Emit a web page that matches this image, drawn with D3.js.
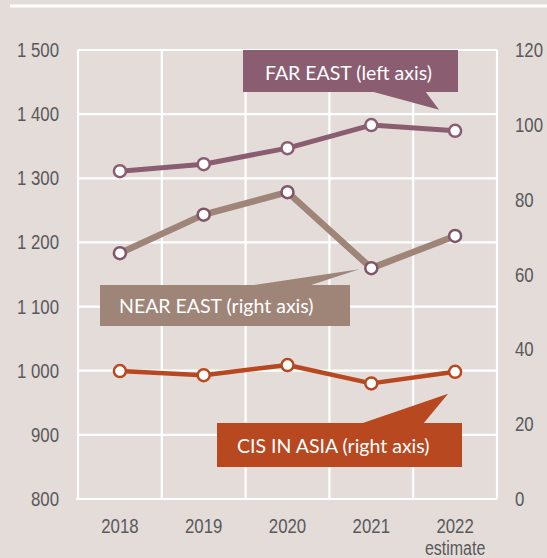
<!DOCTYPE html>
<html><head><meta charset="utf-8">
<script src="https://cdn.jsdelivr.net/npm/d3@7"></script>
<style>
html,body{margin:0;padding:0;background:#e3dcd9;}
svg{display:block;}
.ax text, text.ax{font-family:"Liberation Sans",Arial,sans-serif;}
.co{font-family:Lato,"Open Sans",sans-serif;}
</style></head>
<body>
<script>
const years = ["2018","2019","2020","2021","2022"];
const farEast = [1311, 1322, 1347, 1383, 1374];      // left axis
const nearEast = [65.7, 76, 82, 61.7, 70.3];         // right axis
const cisAsia = [34.2, 33.1, 35.8, 30.9, 34.0];      // right axis
const leftTicks = [800, 900, 1000, 1100, 1200, 1300, 1400, 1500];
const rightTicks = [0, 20, 40, 60, 80, 100, 120];
const leftTickLabels = ["800","900","1 000","1 100","1 200","1 300","1 400","1 500"];

const W = 547, H = 558;
const bg = "#e3dcd9", grid = "#ffffff", txt = "#595959";
const cFar = "#8a5d70", cNear = "#9e8578", cCis = "#b7481f";
const NARROW = "scale(0.82,1)";

const svg = d3.select("body").append("svg").attr("width", W).attr("height", H);
svg.append("rect").attr("width", W).attr("height", H).attr("fill", bg);
svg.append("line").attr("x1", 10).attr("x2", W).attr("y1", 6).attr("y2", 6)
  .attr("stroke", "#fff").attr("stroke-width", 3);

const x = d3.scaleBand().domain(years).range([78, 497]);
const yL = d3.scaleLinear().domain([800, 1500]).range([499, 50]);
const yR = d3.scaleLinear().domain([0, 120]).range([499, 50]);

// grid
const g = svg.append("g");
leftTicks.forEach(t => g.append("line").attr("x1", t === 800 ? 76 : 78).attr("x2", 497)
  .attr("y1", yL(t)).attr("y2", yL(t)).attr("stroke", grid).attr("stroke-width", 2.2));
const bounds = years.map(y => x(y)).concat([x.range()[1]]);
bounds.forEach(b => g.append("line").attr("x1", b).attr("x2", b)
  .attr("y1", yL(1500)).attr("y2", yL(800)).attr("stroke", grid).attr("stroke-width", 2.2));

// axes
const axL = svg.append("g").attr("class", "ax").attr("transform", "translate(59,0)")
  .call(d3.axisLeft(yL).tickValues(leftTicks).tickSize(0).tickPadding(0)
    .tickFormat((d, i) => leftTickLabels[i]));
const axR = svg.append("g").attr("class", "ax").attr("transform", "translate(515,0)")
  .call(d3.axisRight(yR).tickValues(rightTicks).tickSize(0).tickPadding(0));
const axB = svg.append("g").attr("class", "ax").attr("transform", "translate(0,533)")
  .call(d3.axisBottom(x).tickSize(0).tickPadding(0));
[axL, axR, axB].forEach(a => {
  a.select(".domain").remove();
  a.attr("font-family", null).attr("font-size", null);
  a.selectAll("text").attr("fill", txt).style("font-size", "20.5px").attr("transform", NARROW);
});
axB.selectAll("text").attr("dy", 0).attr("y", 0);
svg.append("g").attr("transform", `translate(${x("2022") + x.bandwidth() / 2},555)`)
  .append("text").attr("class", "ax").attr("text-anchor", "middle").attr("fill", txt)
  .attr("transform", NARROW).style("font-size", "19.5px").text("estimate");

const cx = d => x(d) + x.bandwidth() / 2;

function series(vals, scale, color, width, markerStroke) {
  const pts = vals.map((v, i) => [cx(years[i]), scale(v)]);
  svg.append("path").attr("d", d3.line()(pts)).attr("fill", "none")
    .attr("stroke", color).attr("stroke-width", width).attr("stroke-linejoin", "round");
  svg.selectAll(null).data(pts).enter().append("circle")
    .attr("cx", d => d[0]).attr("cy", d => d[1]).attr("r", 6)
    .attr("fill", "#fff").attr("stroke", markerStroke).attr("stroke-width", 2.5);
}
series(farEast, yL, cFar, 5, cFar);
series(nearEast, yR, cNear, 6.5, "#7f5568");
series(cisAsia, yR, cCis, 4.5, cCis);

// callouts
function callout(box, ptr, color, label, tx, ty) {
  const [x0, y0, x1, y1] = box;
  svg.append("rect").attr("x", x0).attr("y", y0).attr("width", x1 - x0).attr("height", y1 - y0)
    .attr("fill", color);
  svg.append("path").attr("d", d3.line()(ptr)).attr("fill", color);
  svg.append("text").attr("class", "co").attr("x", tx).attr("y", ty).attr("fill", "#fff")
    .style("font-size", "19.5px").text(label);
}
const fx = cx("2022"), fy = yL(farEast[4]);
callout([243, 50, 458, 92], [[370, 91], [425, 91], [fx - 16, fy - 21]], cFar,
  "FAR EAST (left axis)", 265, 80);
const nx = cx("2021"), ny = yR(nearEast[3]);
callout([100, 285, 350, 326], [[247, 286], [308, 286], [nx - 12, ny + 1]], cNear,
  "NEAR EAST (right axis)", 119, 313);
const ix = cx("2022"), iy = yR(cisAsia[4]);
callout([217, 423, 462, 467], [[360, 424], [423, 424], [ix - 7, iy + 22]], cCis,
  "CIS IN ASIA (right axis)", 237, 453);
</script>
</body></html>
